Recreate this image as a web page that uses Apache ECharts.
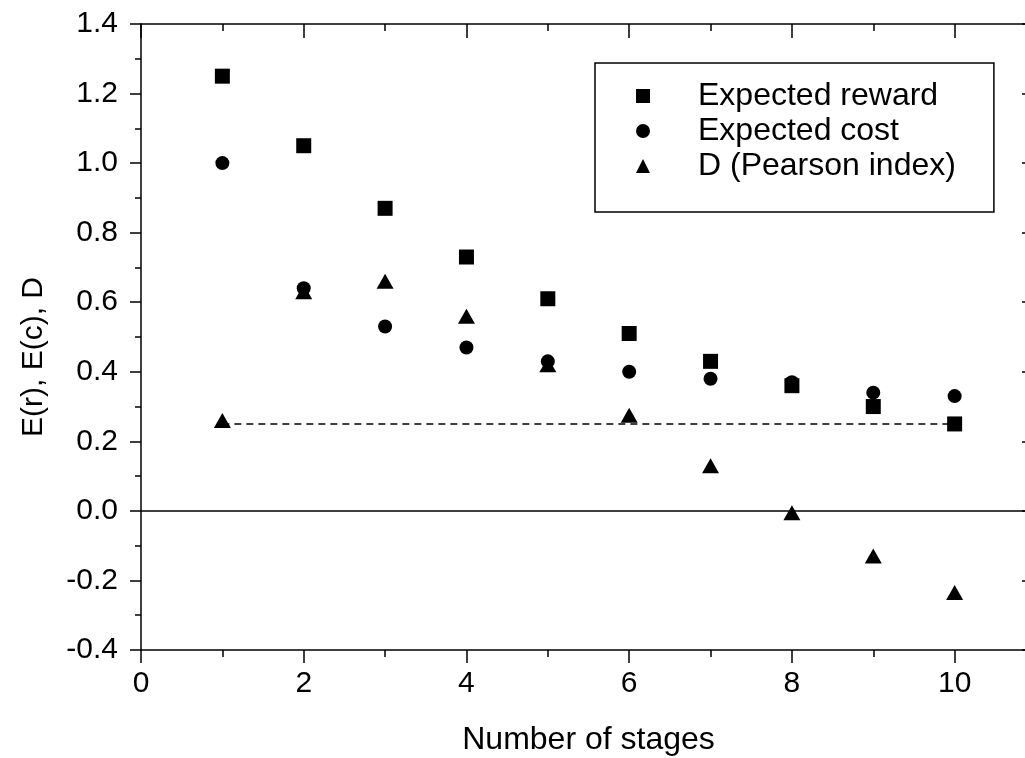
<!DOCTYPE html>
<html>
<head>
<meta charset="utf-8">
<script src="https://cdn.jsdelivr.net/npm/echarts@6/dist/echarts.min.js"></script>
<style>
html,body{margin:0;padding:0;background:#fff;}
#chart{width:1025px;height:758px;}
</style>
</head>
<body>
<div id="chart"></div>
<script>
const stages = [1, 2, 3, 4, 5, 6, 7, 8, 9, 10];
const expectedReward = [1.25, 1.05, 0.87, 0.73, 0.61, 0.51, 0.43, 0.36, 0.30, 0.25];
const expectedCost = [1.00, 0.64, 0.53, 0.47, 0.43, 0.40, 0.38, 0.37, 0.34, 0.33];
const pearsonD = [0.26, 0.63, 0.66, 0.56, 0.42, 0.275, 0.13, -0.005, -0.13, -0.235];
const referenceLevel = 0.25;
const seriesNames = ['Expected reward', 'Expected cost', 'D (Pearson index)'];
const xTicks = [0, 2, 4, 6, 8, 10];
const yTicks = [-0.4, -0.2, 0.0, 0.2, 0.4, 0.6, 0.8, 1.0, 1.2, 1.4];

const FONT = 'Liberation Sans, Arial, sans-serif';
const pairs = (ys) => stages.map((x, i) => [x, ys[i]]);
const refLine = [[stages[0], referenceLevel], [stages[stages.length - 1], referenceLevel]];

const axisLineStyle = { color: '#000', width: 1.5 };

const chart = echarts.init(document.getElementById('chart'), null, { renderer: 'canvas' });
chart.setOption({
  animation: false,
  backgroundColor: '#fff',
  grid: { left: 141, top: 24, right: -11, bottom: 108, containLabel: false, outerBoundsMode: 'none' },
  legend: {
    data: seriesNames,
    orient: 'vertical',
    left: 595,
    top: 63,
    padding: [17, 38, 30, 41],
    itemGap: 3,
    itemWidth: 14,
    itemHeight: 14,
    borderColor: '#000',
    borderWidth: 1.5,
    itemStyle: { opacity: 1 },
    textStyle: { fontFamily: FONT, fontSize: 32, color: '#000', lineHeight: 32, padding: [0, 0, 0, 43] }
  },
  xAxis: [
    {
      type: 'value', min: 0, max: 11, interval: 2, position: 'bottom',
      name: 'Number of stages', nameLocation: 'middle', nameGap: 74,
      nameTextStyle: { fontFamily: FONT, fontSize: 32, color: '#000' },
      axisLine: { show: true, onZero: false, lineStyle: axisLineStyle },
      axisTick: { show: true, inside: false, length: 13, lineStyle: axisLineStyle },
      minorTick: { show: true, splitNumber: 2, length: 7, lineStyle: axisLineStyle },
      splitLine: { show: false },
      axisLabel: {
        fontFamily: FONT, fontSize: 30, color: '#000', margin: 19,
        formatter: (v) => xTicks.includes(v) ? String(v) : ''
      }
    },
    {
      type: 'value', min: 0, max: 11, interval: 2, position: 'top',
      axisLine: { show: true, onZero: false, lineStyle: axisLineStyle },
      axisTick: { show: true, inside: true, length: 14, lineStyle: axisLineStyle },
      minorTick: { show: true, splitNumber: 2, length: 7, lineStyle: axisLineStyle },
      splitLine: { show: false },
      axisLabel: { show: false }
    }
  ],
  yAxis: [
    {
      type: 'value', min: -0.4, max: 1.4, interval: 0.2, position: 'left',
      name: 'E(r), E(c), D', nameLocation: 'middle', nameGap: 92, nameRotate: 90,
      nameTextStyle: { fontFamily: FONT, fontSize: 30, color: '#000', padding: [0, 40, 0, 0] },
      axisLine: { show: true, onZero: false, lineStyle: axisLineStyle },
      axisTick: { show: true, inside: false, length: 11, lineStyle: axisLineStyle },
      minorTick: { show: true, splitNumber: 2, length: 6, lineStyle: axisLineStyle },
      splitLine: { show: false },
      axisLabel: {
        fontFamily: FONT, fontSize: 30, color: '#000', margin: 23,
        formatter: (v) => {
          const t = yTicks.find((k) => Math.abs(k - v) < 1e-9);
          return t === undefined ? '' : t.toFixed(1);
        }
      }
    },
    {
      type: 'value', min: -0.4, max: 1.4, interval: 0.2, position: 'right',
      axisLine: { show: true, onZero: false, lineStyle: axisLineStyle },
      axisTick: { show: true, inside: true, length: 14, lineStyle: axisLineStyle },
      minorTick: { show: true, splitNumber: 2, length: 6, lineStyle: axisLineStyle },
      splitLine: { show: false },
      axisLabel: { show: false }
    }
  ],
  series: [
    {
      name: 'zero', type: 'line', data: [], xAxisIndex: 0, yAxisIndex: 0,
      silent: true,
      markLine: {
        silent: true, symbol: ['none', 'none'], label: { show: false },
        lineStyle: { color: '#000', width: 1.5, type: 'solid' },
        data: [{ yAxis: 0 }]
      }
    },
    {
      name: 'reference', type: 'line', data: refLine, xAxisIndex: 0, yAxisIndex: 0,
      symbol: 'none', silent: true,
      lineStyle: { color: '#000', width: 1.5, type: [7, 5] }
    },
    {
      name: seriesNames[0], type: 'scatter', data: pairs(expectedReward),
      symbol: 'rect', symbolSize: 15, itemStyle: { color: '#000', opacity: 1 }
    },
    {
      name: seriesNames[1], type: 'scatter', data: pairs(expectedCost),
      symbol: 'circle', symbolSize: 14, itemStyle: { color: '#000', opacity: 1 }
    },
    {
      name: seriesNames[2], type: 'scatter', data: pairs(pearsonD),
      symbol: 'triangle', symbolSize: [17, 15], itemStyle: { color: '#000', opacity: 1 }
    }
  ]
});
</script>
</body>
</html>
